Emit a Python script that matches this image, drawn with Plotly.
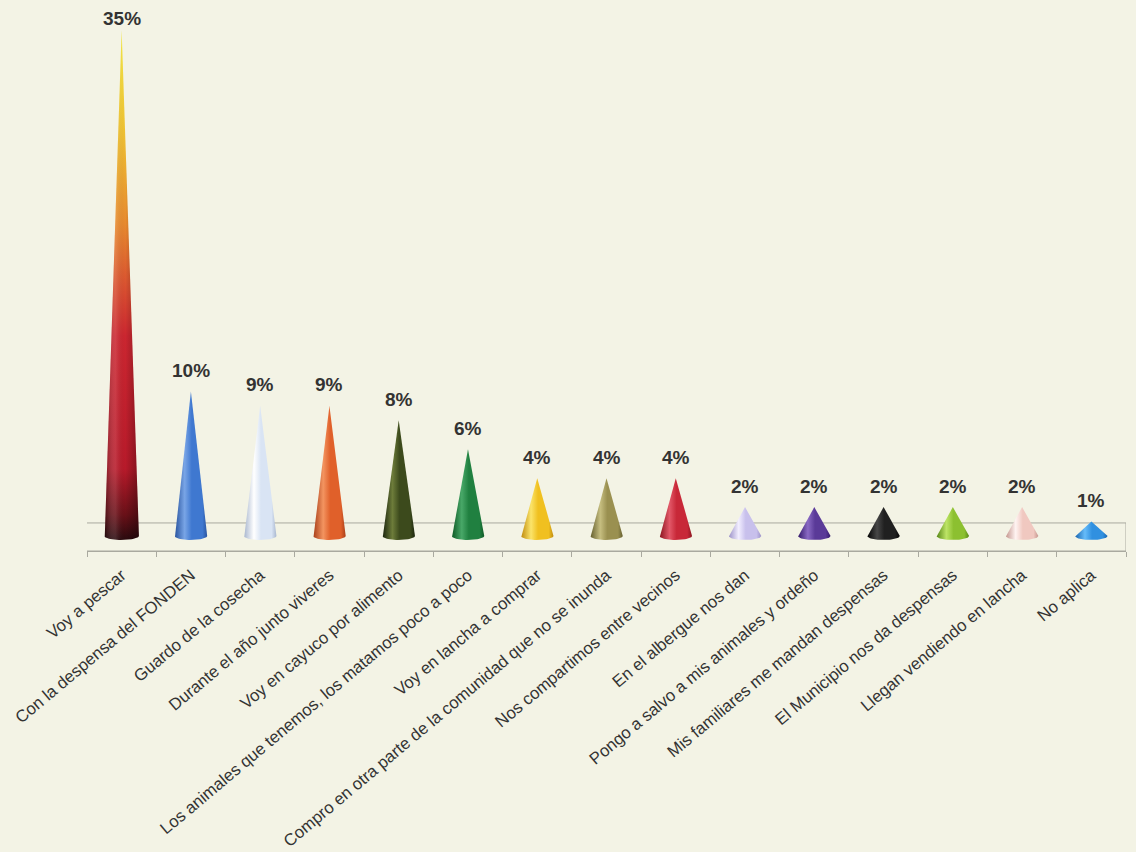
import numpy as np
import plotly.graph_objects as go

# ---------------- data ----------------
categories = [
    "Voy a pescar",
    "Con la despensa del FONDEN",
    "Guardo de la cosecha",
    "Durante el año junto viveres",
    "Voy en cayuco por alimento",
    "Los animales que tenemos, los matamos poco a poco",
    "Voy en lancha a comprar",
    "Compro en otra parte de la comunidad que no se inunda",
    "Nos compartimos entre vecinos",
    "En el albergue nos dan",
    "Pongo a salvo a mis animales y ordeño",
    "Mis familiares me mandan despensas",
    "El Municipio nos da despensas",
    "Llegan vendiendo en lancha",
    "No aplica",
]
values = [35, 10, 9, 9, 8, 6, 4, 4, 4, 2, 2, 2, 2, 2, 1]

# ---------------- style ----------------
BG = "#f3f3e5"
GRID = "#a9a99f"
TEXT = "#333333"
FONT = "Arial, Liberation Sans, sans-serif"

# (edge, highlight, mid) per cone
cone_colors = [
    None,
    ("#2a55a0", "#79a5e6", "#3f78d0"),
    ("#a9b7cf", "#ffffff", "#d9e4f4"),
    ("#a9401a", "#f39460", "#e0602a"),
    ("#1c260e", "#6d7c3a", "#3c4a1c"),
    ("#0f5a26", "#48a868", "#208040"),
    ("#c08c10", "#fbe46a", "#f0c020"),
    ("#666030", "#c6be80", "#9a9050"),
    ("#8c1620", "#e25868", "#c82838"),
    ("#9c92c8", "#f2eeff", "#c8c0ec"),
    ("#33196a", "#8a6ac4", "#5a3a98"),
    ("#050505", "#474747", "#202020"),
    ("#578716", "#bde466", "#8cc030"),
    ("#c4968e", "#fff4f2", "#f0c8c0"),
    ("#1864ae", "#66bcfa", "#3090e0"),
]
first_vertical = [
    [0.0, "#2a0a0e"], [0.05, "#6a1018"], [0.14, "#b81a2a"], [0.40, "#cc2630"],
    [0.50, "#da5230"], [0.62, "#e88a2e"], [0.80, "#f0c232"], [1.0, "#f8ec44"],
]
shade_overlay = [
    [0.0, "rgba(0,0,0,0.30)"], [0.32, "rgba(255,255,255,0.12)"],
    [0.6, "rgba(0,0,0,0)"], [1.0, "rgba(0,0,0,0.30)"],
]

HALF_W = 0.235      # cone base half width (x units)
ELL_B = 0.28        # ellipse semi-minor (y units)
Y_MIN, Y_MAX = -1.04, 36.38
FLOOR_TOP = 0.9
PX_PER_Y = (852 - 10 - 301) / (Y_MAX - Y_MIN)


def cone_path(i, v, hw):
    th = np.linspace(0, np.pi, 30)
    bx = i - hw * np.cos(th)
    by = -ELL_B * np.sin(th)
    xs = np.concatenate([[i], bx, [i]])
    ys = np.concatenate([[v], by, [v]])
    return xs, ys


fig = go.Figure()

for i, (cat, v) in enumerate(zip(categories, values)):
    if cone_colors[i] is None:
        xs, ys = cone_path(i, v, HALF_W * 1.06)
        fig.add_trace(go.Scatter(
            x=xs, y=ys, mode="lines", fill="toself", line=dict(width=0),
            fillgradient=dict(type="vertical", colorscale=first_vertical),
            hoverinfo="skip", showlegend=False))
        fig.add_trace(go.Scatter(
            x=xs, y=ys, mode="lines", fill="toself", line=dict(width=0),
            fillgradient=dict(type="horizontal", colorscale=shade_overlay),
            name=cat, hoverinfo="skip", showlegend=False))
    else:
        xs, ys = cone_path(i, v, HALF_W)
        edge, hi, mid = cone_colors[i]
        fig.add_trace(go.Scatter(
            x=xs, y=ys, mode="lines", fill="toself", line=dict(width=0),
            fillgradient=dict(type="horizontal", colorscale=[
                [0.0, edge], [0.3, hi], [0.52, mid], [0.85, mid], [1.0, edge]]),
            name=cat, hoverinfo="skip", showlegend=False))

# percentage labels
label_off = 21 / PX_PER_Y
label_cap = Y_MAX - 8 / PX_PER_Y
for i, v in enumerate(values):
    fig.add_annotation(
        x=i, y=min(v + label_off, label_cap), xref="x", yref="y",
        text=f"<b>{v}%</b>", showarrow=False, yanchor="middle",
        font=dict(family=FONT, size=19, color=TEXT))

# floor
fig.add_shape(type="rect", xref="x", yref="y", x0=-0.52, x1=14.5,
              y0=Y_MIN, y1=FLOOR_TOP, line=dict(color=GRID, width=1),
              fillcolor="rgba(0,0,0,0)", layer="below")

fig.update_layout(
    width=1136, height=852,
    margin=dict(l=87, r=10, t=10, b=301),
    paper_bgcolor=BG, plot_bgcolor=BG,
    showlegend=False,
    font=dict(family=FONT, color=TEXT),
)
fig.update_xaxes(
    range=[-0.5, 14.5], tickmode="array", tickvals=list(range(len(categories))),
    ticktext=categories, tickangle=-40, ticks="", ticklabelstandoff=7,
    tickfont=dict(family=FONT, size=16.8, color=TEXT), automargin=False,
    showgrid=False, zeroline=False, showline=True, linecolor=GRID, linewidth=1,
    minor=dict(tick0=-0.5, dtick=1, ticks="outside", ticklen=5,
               tickcolor=GRID, tickwidth=1, showgrid=False),
    fixedrange=True,
)
fig.update_yaxes(range=[Y_MIN, Y_MAX], visible=False, fixedrange=True,
                 automargin=False)

fig.write_html("out.html")
